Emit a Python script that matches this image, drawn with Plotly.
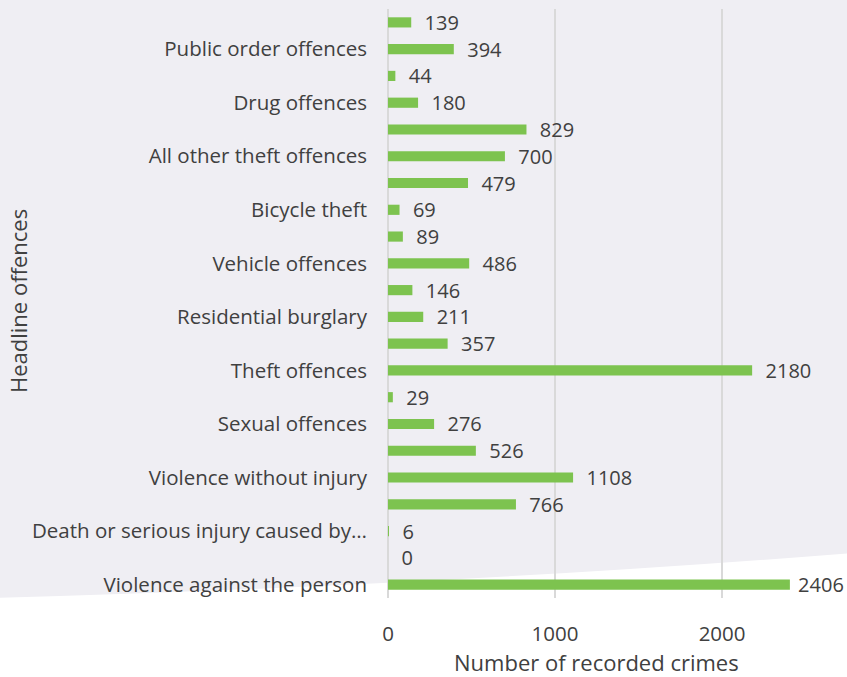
import plotly.graph_objects as go

categories = [
    "Violence against the person", "Homicide",
    "Death or serious injury caused by unlawful driving", "Violence with injury",
    "Violence without injury", "Stalking and harassment",
    "Sexual offences", "Robbery",
    "Theft offences", "Burglary",
    "Residential burglary", "Non-residential burglary",
    "Vehicle offences", "Theft from the person",
    "Bicycle theft", "Shoplifting",
    "All other theft offences", "Criminal damage and arson",
    "Drug offences", "Possession of weapons offences",
    "Public order offences", "Miscellaneous crimes against society",
]
values = [2406, 0, 6, 766, 1108, 526, 276, 29, 2180, 357, 211, 146,
          486, 89, 69, 479, 700, 829, 180, 44, 394, 139]
shown_labels = {
    "Violence against the person": "Violence against the person",
    "Death or serious injury caused by unlawful driving": "Death or serious injury caused by…",
    "Violence without injury": "Violence without injury",
    "Sexual offences": "Sexual offences",
    "Theft offences": "Theft offences",
    "Residential burglary": "Residential burglary",
    "Vehicle offences": "Vehicle offences",
    "Bicycle theft": "Bicycle theft",
    "All other theft offences": "All other theft offences",
    "Drug offences": "Drug offences",
    "Public order offences": "Public order offences",
}
x_ticks = [0, 1000, 2000]

W, H = 847, 677
L, R, T, B = 388, 8, 9, 79
pw, ph = W - L - R, H - T - B
X_MAX = 2700

def px(x):
    return (x - L) / pw

def py(y):
    return (H - B - y) / ph

FONT = "Open Sans, sans-serif"
FS = 20.5
FL = 20
FT = 22
TXT = "#404040"

# outside labels: normal gap, tighter when the label nears the right edge
labels = [("  " if v < 0.85 * X_MAX else " ") + str(v) for v in values]

fig = go.Figure(go.Bar(
    y=categories, x=values, orientation="h",
    marker=dict(color="#7dc34f", line=dict(width=0)),
    text=labels, textposition="outside",
    textfont=dict(family=FONT, size=FL, color=TXT), constraintext="none",
    cliponaxis=False, hoverinfo="skip",
))

# background with curved white lower edge
path = (f"M {px(-5)},{py(-5)} L {px(W+5)},{py(-5)} L {px(W+5)},{py(553)} "
        f"Q {px(450)},{py(585)} {px(-5)},{py(598)} Z")
fig.add_shape(type="path", path=path, xref="paper", yref="paper",
              fillcolor="#efeef3", line=dict(width=0), layer="below")

fig.add_annotation(text="Headline offences", x=px(18), y=py(301), xref="paper", yref="paper",
                   xanchor="center", yanchor="middle",
                   textangle=-90, showarrow=False, font=dict(family=FONT, size=FT, color=TXT))
fig.add_annotation(text="Number of recorded crimes", x=px(596), y=py(662), xref="paper", yref="paper",
                   xanchor="center", yanchor="middle",
                   showarrow=False, font=dict(family=FONT, size=FT, color=TXT))

fig.update_layout(
    width=W, height=H, margin=dict(l=L, r=R, t=T, b=B),
    paper_bgcolor="white", plot_bgcolor="rgba(0,0,0,0)",
    bargap=0.62, showlegend=False,
    font=dict(family=FONT, size=FS, color=TXT),
)
fig.update_xaxes(range=[0, X_MAX], tickvals=x_ticks, ticktext=[str(t) for t in x_ticks],
                 showgrid=True, gridcolor="#d9d9d9", gridwidth=1.5,
                 zeroline=True, zerolinecolor="#d9d9d9", zerolinewidth=1.5,
                 showline=False, ticks="", ticklabelstandoff=21,
                 tickfont=dict(family=FONT, size=FS, color=TXT))
fig.update_yaxes(categoryorder="array", categoryarray=categories,
                 tickvals=list(shown_labels.keys()), ticktext=list(shown_labels.values()),
                 showgrid=False, showline=False, ticks="", ticklabelstandoff=20,
                 tickfont=dict(family=FONT, size=FS, color=TXT), range=[-0.5, 21.5])

fig.write_html("out.html")
